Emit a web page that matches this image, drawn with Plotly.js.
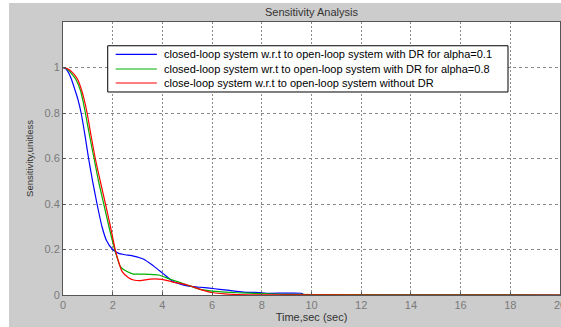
<!DOCTYPE html>
<html>
<head>
<meta charset="utf-8">
<script src="https://cdn.plot.ly/plotly-3.0.1.min.js"></script>
<style>
html,body{margin:0;padding:0;background:#ffffff;width:561px;height:327px;overflow:hidden;}
#chart{position:absolute;left:9px;top:3px;width:552px;height:324px;}
</style>
</head>
<body>
<div id="chart"></div>
<script>
// Time (sec) and sensitivity values
const blueT = [0, 0.1, 0.2, 0.35, 0.5, 0.6, 0.73, 0.88, 1.03, 1.2, 1.37, 1.57, 1.75, 2.0, 2.24, 2.5, 2.84, 3.25, 3.65, 4.02, 4.45, 5.0, 5.5, 5.9, 6.3, 6.7, 7.25, 8.0, 8.25, 9.6, 9.7, 12, 20];
const blueS = [1, 0.995, 0.982, 0.945, 0.895, 0.86, 0.8, 0.705, 0.6, 0.495, 0.4, 0.3, 0.24, 0.2, 0.183, 0.177, 0.171, 0.157, 0.127, 0.095, 0.058, 0.04, 0.034, 0.03, 0.025, 0.02, 0.013, 0.01, 0.0075, 0.0075, 0.002, 0.001, 0];

const greenT = [0, 0.1, 0.25, 0.4, 0.53, 0.7, 0.8, 0.9, 1.07, 1.25, 1.43, 1.64, 1.85, 2.08, 2.31, 2.58, 2.84, 3.25, 3.85, 4.32, 5.0, 5.52, 6.26, 7.0, 8.0, 9.0, 10.0, 13.0, 20];
const greenS = [1, 0.998, 0.985, 0.965, 0.945, 0.9, 0.855, 0.8, 0.7, 0.6, 0.5, 0.4, 0.3, 0.2, 0.125, 0.103, 0.092, 0.092, 0.088, 0.069, 0.044, 0.025, 0.015, 0.01, 0.006, 0.003, 0.002, 0.001, 0];

const redT = [0, 0.1, 0.25, 0.45, 0.6, 0.75, 0.85, 0.97, 1.13, 1.3, 1.5, 1.71, 1.91, 2.1, 2.2, 2.38, 2.64, 2.84, 3.11, 3.51, 3.98, 4.39, 5.0, 5.52, 6.06, 6.5, 7.0, 8.0, 13.0, 20];
const redS = [1, 0.998, 0.99, 0.97, 0.945, 0.9, 0.86, 0.8, 0.7, 0.6, 0.5, 0.4, 0.3, 0.2, 0.16, 0.103, 0.076, 0.066, 0.063, 0.07, 0.069, 0.058, 0.044, 0.025, 0.01, 0.005, 0.002, 0.001, 0, 0];

const seriesNames = [
  "closed-loop system w.r.t to open-loop system with DR for alpha=0.1",
  "closed-loop system wr.t to open-loop system with DR for alpha=0.8",
  "close-loop system w.r.t to open-loop system without DR"
];
const seriesColors = ["#0000ff", "#00b000", "#ff0000"];
const xTicks = [0, 2, 4, 6, 8, 10, 12, 14, 16, 18, 20];
const yTicks = [0, 0.2, 0.4, 0.6, 0.8, 1];
const yTickText = ["0", "0.2", "0.4", "0.6", "0.8", "1"];

const seriesT = [blueT, greenT, redT];
const seriesS = [blueS, greenS, redS];

const traces = seriesNames.map((n, i) => ({
  x: seriesT[i], y: seriesS[i], name: n, mode: "lines",
  line: {color: seriesColors[i], width: 1.2, shape: "spline", smoothing: 0.6},
  showlegend: false
}));

// MATLAB-style legend box (drawn in paper coordinates)
const legBox = {x0: 0.090, x1: 0.8954, y0: 0.7436, y1: 0.913};
const legRowsY = [0.8817, 0.8278, 0.7766];
const legLineX = [0.106, 0.1889];
const legTextX = 0.1986;

const shapes = [{
  type: "rect", xref: "paper", yref: "paper",
  x0: legBox.x0, x1: legBox.x1, y0: legBox.y0, y1: legBox.y1,
  fillcolor: "#ffffff", line: {color: "#000000", width: 1}, layer: "above"
}];
const annotations = [];
seriesNames.forEach((n, i) => {
  shapes.push({
    type: "line", xref: "paper", yref: "paper",
    x0: legLineX[0], x1: legLineX[1], y0: legRowsY[i], y1: legRowsY[i],
    line: {color: seriesColors[i], width: 1.2}, layer: "above"
  });
  annotations.push({
    xref: "paper", yref: "paper", x: legTextX, y: legRowsY[i],
    xanchor: "left", yanchor: "middle", showarrow: false, text: n,
    font: {family: "Liberation Sans, Arial, sans-serif", size: 11, color: "#000000"}
  });
});

const axisFont = {family: "Liberation Sans, Arial, sans-serif", size: 11, color: "#7a7a7a"};

const layout = {
  width: 552, height: 324,
  margin: {l: 54, r: 1, t: 19, b: 32, pad: 0},
  paper_bgcolor: "#cccccc",
  plot_bgcolor: "#ffffff",
  showlegend: false,
  title: {
    text: "Sensitivity Analysis",
    font: {family: "Liberation Sans, Arial, sans-serif", size: 11, color: "#333333"},
    x: 0.5, xref: "paper", y: 0.972, yref: "container", yanchor: "middle"
  },
  xaxis: {
    range: [0, 20], tickvals: xTicks, ticktext: xTicks.map(String),
    ticks: "inside", ticklen: 3, tickcolor: "#555555",
    showline: true, linecolor: "#555555", linewidth: 1, mirror: true,
    showgrid: true, gridcolor: "#8a8a8a", gridwidth: 1, griddash: "2px,2px",
    zeroline: false, tickfont: axisFont, ticklabeloverflow: "allow",
    title: {text: "Time,sec (sec)", font: {family: "Liberation Sans, Arial, sans-serif", size: 11, color: "#333333"}, standoff: 2},
    automargin: false
  },
  yaxis: {
    range: [0, 1.2], tickvals: yTicks, ticktext: yTickText,
    ticks: "inside", ticklen: 3, tickcolor: "#555555",
    showline: true, linecolor: "#555555", linewidth: 1, mirror: true,
    showgrid: true, gridcolor: "#8a8a8a", gridwidth: 1, griddash: "3px,3px",
    zeroline: false, tickfont: axisFont,
    title: {text: "Sensitivity,unitless", font: {family: "Liberation Sans, Arial, sans-serif", size: 9.5, color: "#333333"}, standoff: 9},
    automargin: false
  },
  shapes: shapes,
  annotations: annotations
};

Plotly.newPlot("chart", traces, layout, {staticPlot: true, displayModeBar: false});
</script>
</body>
</html>
